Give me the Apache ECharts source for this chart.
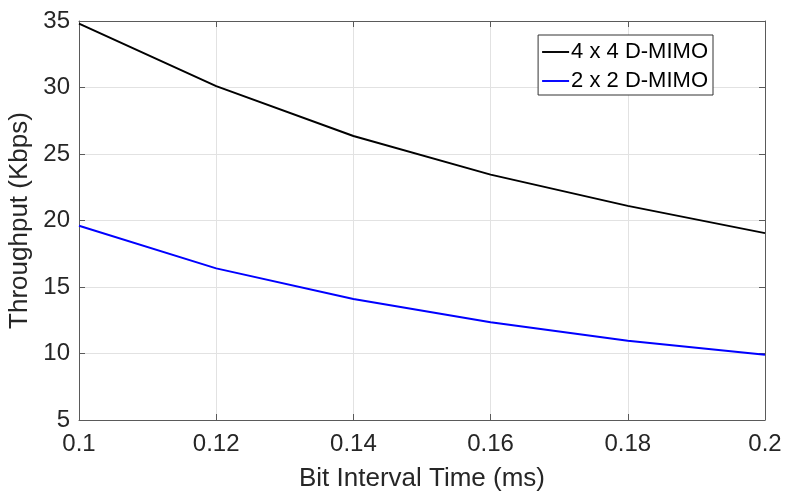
<!DOCTYPE html>
<html><head><meta charset="utf-8">
<script src="https://cdn.jsdelivr.net/npm/echarts@6/dist/echarts.min.js"></script>
<style>html,body{margin:0;padding:0;background:#fff}#c{width:787px;height:491px}</style>
</head><body><div id="c"></div>
<script>
const xValues = [0.1, 0.12, 0.14, 0.16, 0.18, 0.2];
const mimo4 = [34.8, 30.1, 26.35, 23.45, 21.1, 19.05];
const mimo2 = [19.6, 16.4, 14.1, 12.35, 10.95, 9.9];
const seriesNames = ['4 x 4 D-MIMO', '2 x 2 D-MIMO'];
const xTitle = 'Bit Interval Time (ms)';
const yTitle = 'Throughput (Kbps)';

const font = 'Liberation Sans, Arial, sans-serif';
const textCol = '#262626';
const axisCol = '#5a5a5a';
const chart = echarts.init(document.getElementById('c'));
const fmt = v => String(parseFloat(v.toFixed(4)));
const tick = {show: true, inside: true, length: 6, lineStyle: {color: axisCol}};
chart.setOption({
  animation: false,
  grid: {left: 79, right: 22, top: 21, bottom: 71, containLabel: false, outerBoundsMode: 'none'},
  legend: {
    orient: 'vertical', right: 74, top: 35,
    data: seriesNames,
    backgroundColor: '#fff', borderColor: '#333', borderWidth: 1,
    padding: [6, 5, 3, 4], itemGap: 7,
    itemWidth: 27, itemHeight: 2, icon: 'path://M0,0H28V2H0Z',
    textStyle: {fontFamily: font, fontSize: 22, color: '#000', padding: [0,0,0,-3]}
  },
  xAxis: [{
    type: 'value', min: 0.1, max: 0.2, interval: 0.02,
    name: xTitle, nameLocation: 'middle', nameGap: 46,
    nameTextStyle: {fontFamily: font, fontSize: 26, color: textCol},
    axisLine: {show: true, lineStyle: {color: axisCol}},
    axisTick: tick,
    axisLabel: {fontFamily: font, fontSize: 24, color: textCol, margin: 12, formatter: fmt},
    splitLine: {show: true, lineStyle: {color: '#e2e2e2'}}
  }, {
    type: 'value', position: 'top', min: 0.1, max: 0.2, interval: 0.02,
    axisLine: {show: true, lineStyle: {color: axisCol}},
    axisTick: tick, axisLabel: {show: false}, splitLine: {show: false}
  }],
  yAxis: [{
    type: 'value', min: 5, max: 35, interval: 5,
    name: yTitle, nameLocation: 'middle', nameGap: 37,
    nameTextStyle: {fontFamily: font, fontSize: 26, color: textCol},
    axisLine: {show: true, lineStyle: {color: axisCol}},
    axisTick: tick,
    axisLabel: {fontFamily: font, fontSize: 24, color: textCol, margin: 9},
    splitLine: {show: true, lineStyle: {color: '#e2e2e2'}}
  }, {
    type: 'value', position: 'right', min: 5, max: 35, interval: 5,
    axisLine: {show: true, lineStyle: {color: axisCol}},
    axisTick: tick, axisLabel: {show: false}, splitLine: {show: false}
  }],
  series: [
    {name: seriesNames[0], type: 'line', data: xValues.map((x,i)=>[x, mimo4[i]]),
     showSymbol: false, lineStyle: {color: '#000', width: 2}, itemStyle: {color: '#000'}},
    {name: seriesNames[1], type: 'line', data: xValues.map((x,i)=>[x, mimo2[i]]),
     showSymbol: false, lineStyle: {color: '#0000ff', width: 2}, itemStyle: {color: '#0000ff'}}
  ]
});
</script></body></html>
